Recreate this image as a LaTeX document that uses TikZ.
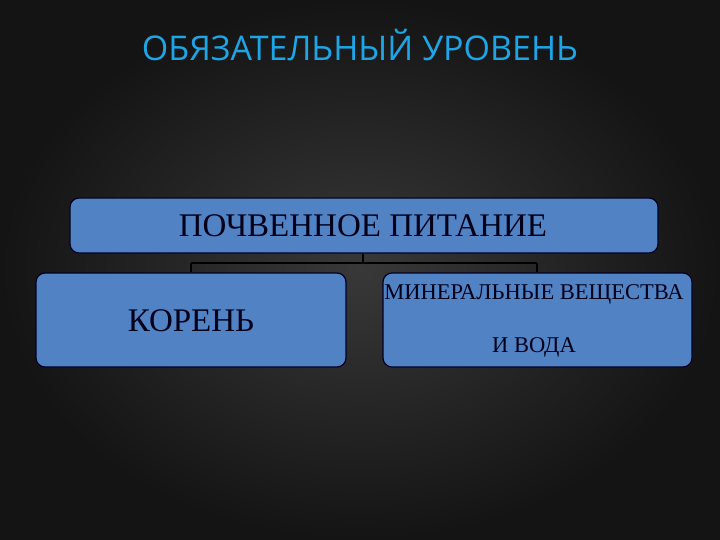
\documentclass[tikz,border=0pt]{standalone}
\usepackage{fontspec}
\setmainfont{Liberation Serif}
\newfontfamily\titlefont{Open Sans}
\begin{document}
\begin{tikzpicture}[x=1pt,y=-1pt,
  box/.style={draw=black!85!blue, line width=1.2pt, fill=boxfill, rounded corners=9pt, inner sep=0pt},
  conn/.style={draw=black, line width=1.6pt}]
\definecolor{boxfill}{RGB}{80,130,196}
\definecolor{titlecol}{RGB}{30,165,230}
\definecolor{bgin}{RGB}{56,56,56}
\definecolor{bgout}{RGB}{20,20,20}
\useasboundingbox (0,0) rectangle (720,540);
\shade[inner color=bgin, outer color=bgout] (0,0) rectangle (720,540);
\node[text=titlecol, font=\titlefont\fontsize{34}{40}\selectfont] (title) at (360,45) {ОБЯЗАТЕЛЬНЫЙ УРОВЕНЬ};
\node[box, minimum width=588pt, minimum height=55pt] (top) at (364,225.5) {};
\node[font=\fontsize{33}{40}\selectfont, text=black!90!blue] (toptext) at (363,226) {ПОЧВЕННОЕ ПИТАНИЕ};
\node[box, minimum width=310pt, minimum height=94pt] (left) at (191,320) {};
\node[box, minimum width=309pt, minimum height=94pt] (right) at (537.5,320) {};
\node[font=\fontsize{33}{40}\selectfont, text=black!90!blue] (lefttext) at (191,321) {КОРЕНЬ};
\node[font=\fontsize{22.5}{27}\selectfont, text=black!90!blue] (r1) at (534,294) {МИНЕРАЛЬНЫЕ ВЕЩЕСТВА};
\node[font=\fontsize{22.5}{27}\selectfont, text=black!90!blue] (r2) at (534,347) {И ВОДА};
\coordinate (jc) at (363,263);
\coordinate (jl) at (191,263);
\coordinate (jr) at (537,263);
\draw[conn] (top.south -| jc) -- (jc);
\draw[conn] (jl) -- (jr);
\draw[conn] (jl) -- (left.north -| jl);
\draw[conn] (jr) -- (right.north -| jr);
\end{tikzpicture}
\end{document}
